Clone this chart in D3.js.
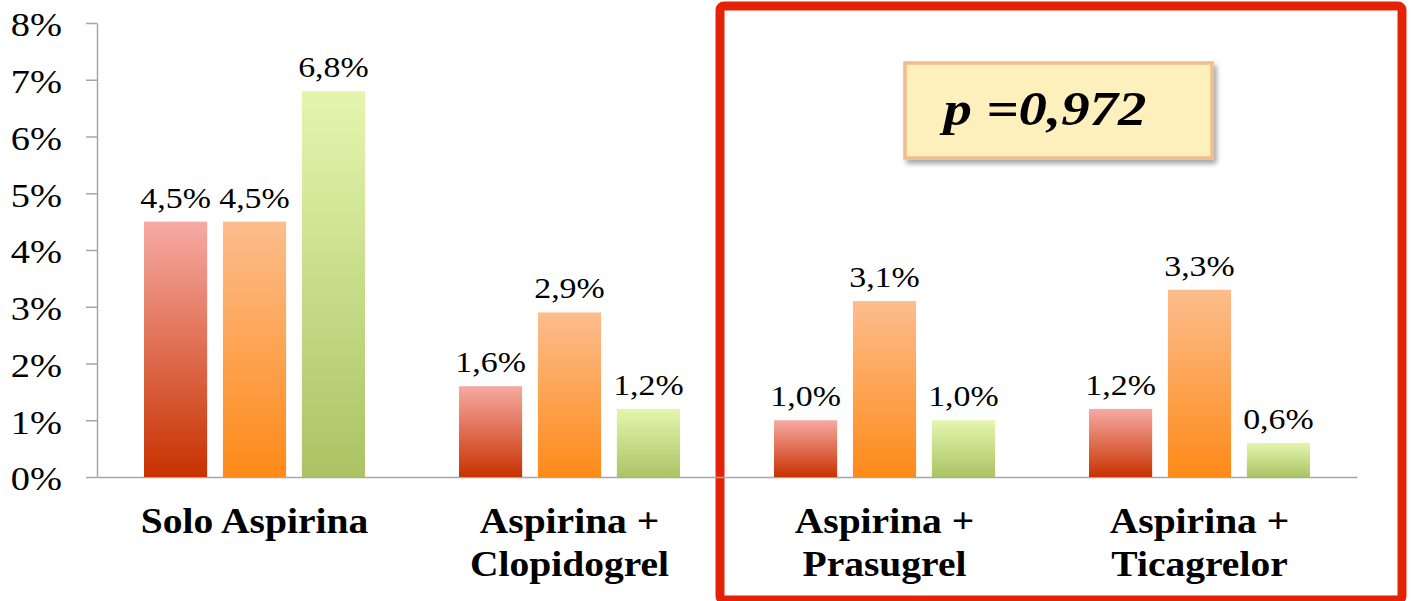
<!DOCTYPE html>
<html>
<head>
<meta charset="utf-8">
<script src="https://cdn.jsdelivr.net/npm/d3@7"></script>
<style>
  html, body { margin: 0; padding: 0; background: #ffffff; }
  svg { display: block; }
  text { font-family: "Liberation Serif", "Times New Roman", serif; fill: #000; }
</style>
</head>
<body>
<svg id="chart" width="1416" height="601"></svg>
<script>
// Grupos de tratamiento (eje X) y sus etiquetas en dos líneas
const categorias = ["Solo Aspirina", "Aspirina + Clopidogrel", "Aspirina + Prasugrel", "Aspirina + Ticagrelor"];
const etiquetasCategoria = [["Solo Aspirina"], ["Aspirina +", "Clopidogrel"], ["Aspirina +", "Prasugrel"], ["Aspirina +", "Ticagrelor"]];

// Tres series por grupo (en %)
const series = ["serieRoja", "serieNaranja", "serieVerde"];
const serieRoja    = [4.5, 1.6, 1.0, 1.2];
const serieNaranja = [4.5, 2.9, 3.1, 3.3];
const serieVerde   = [6.8, 1.2, 1.0, 0.6];

// Marcas del eje Y (%)
const ticksY = [0, 1, 2, 3, 4, 5, 6, 7, 8];

// Texto del recuadro de significación
const textoP = "p =0,972";

const valores = { serieRoja, serieNaranja, serieVerde };

const svg = d3.select("#chart");
const SX = 1.13; // ligera expansión horizontal del texto

// Degradados verticales de las barras
const defs = svg.append("defs");
const degradados = {
  serieRoja:    ["#f6aaa3", "#c83200"],
  serieNaranja: ["#fcbd8d", "#fe8a18"],
  serieVerde:   ["#e4f6ae", "#abc364"]
};
Object.entries(degradados).forEach(([k, [c0, c1]]) => {
  const g = defs.append("linearGradient").attr("id", "grad-" + k)
    .attr("x1", 0).attr("y1", 0).attr("x2", 0).attr("y2", 1);
  g.append("stop").attr("offset", "0%").attr("stop-color", c0);
  g.append("stop").attr("offset", "100%").attr("stop-color", c1);
});
const sombra = defs.append("filter").attr("id", "sombra")
  .attr("x", "-10%").attr("y", "-10%").attr("width", "130%").attr("height", "140%");
sombra.append("feDropShadow").attr("dx", 3).attr("dy", 4).attr("stdDeviation", 2.5)
  .attr("flood-color", "#000").attr("flood-opacity", 0.35);

// Escalas
const x = d3.scaleBand().domain(categorias).range([97, 1357]);
const xs = d3.scaleBand().domain(series).range([47, 268]).paddingInner(0.2);
const y = d3.scaleLinear().domain([0, 8]).range([477, 23]);

// Recuadro rojo que resalta los dos últimos grupos
svg.append("rect")
  .attr("x", 720).attr("y", 6).attr("width", 682).attr("height", 594)
  .attr("rx", 4)
  .attr("fill", "none").attr("stroke", "#e42208").attr("stroke-width", 9);

// Eje Y
const ejeY = svg.append("g").attr("transform", "translate(97,0)")
  .call(d3.axisLeft(y).tickValues(ticksY).tickSize(11).tickSizeOuter(0).tickFormat(d => d + "%"));
ejeY.select(".domain").attr("stroke", "#a6a6a6").attr("stroke-width", 1.5);
ejeY.selectAll(".tick line").attr("stroke", "#a6a6a6").attr("stroke-width", 1.5);
ejeY.selectAll(".tick text")
  .attr("x", -35 / SX).attr("dy", "0.38em")
  .attr("transform", `scale(${SX},1)`)
  .style("font-family", "'Liberation Serif', 'Times New Roman', serif")
  .style("font-size", "34px").attr("fill", "#000");

// Eje X (línea base)
const ejeX = svg.append("g").attr("transform", "translate(0,477)")
  .call(d3.axisBottom(x).tickSize(0).tickFormat(""));
ejeX.select(".domain").attr("stroke", "#a6a6a6").attr("stroke-width", 1.5);

// Barras
const grupos = svg.selectAll(".grupo").data(categorias).join("g")
  .attr("class", "grupo")
  .attr("transform", d => `translate(${x(d)},0)`);

grupos.selectAll("rect").data((d, i) => series.map(s => ({ s, v: valores[s][i] }))).join("rect")
  .attr("x", d => xs(d.s))
  .attr("y", d => y(d.v))
  .attr("width", xs.bandwidth())
  .attr("height", d => y(0) - y(d.v))
  .attr("fill", d => `url(#grad-${d.s})`);

// Etiquetas de valor
grupos.selectAll("text.valor").data((d, i) => series.map(s => ({ s, v: valores[s][i] }))).join("text")
  .attr("class", "valor")
  .attr("transform", d => `translate(${xs(d.s) + xs.bandwidth() / 2},${y(d.v) - 14}) scale(${SX},1)`)
  .attr("text-anchor", "middle")
  .style("font-size", "30px")
  .text(d => d.v.toFixed(1).replace(".", ",") + "%");

// Etiquetas de categoría
svg.selectAll("text.categoria").data(categorias).join("text")
  .attr("class", "categoria")
  .attr("transform", d => `translate(${x(d) + x.bandwidth() / 2},533) scale(${SX},1)`)
  .attr("text-anchor", "middle")
  .style("font-size", "35px").style("font-weight", "bold")
  .selectAll("tspan").data((d, i) => etiquetasCategoria[i]).join("tspan")
  .attr("x", 0).attr("dy", (d, i) => i === 0 ? 0 : 43)
  .text(d => d);

// Recuadro con el valor p
svg.append("rect")
  .attr("x", 905).attr("y", 63).attr("width", 307).attr("height", 95)
  .attr("fill", "#fdf0bd").attr("stroke", "#f0bd8b").attr("stroke-width", 3.5)
  .attr("filter", "url(#sombra)");
svg.append("text")
  .attr("transform", `translate(1045,125) scale(1.16,1)`)
  .attr("text-anchor", "middle")
  .style("font-size", "49px").style("font-weight", "bold").style("font-style", "italic")
  .text(textoP);
</script>
</body>
</html>
